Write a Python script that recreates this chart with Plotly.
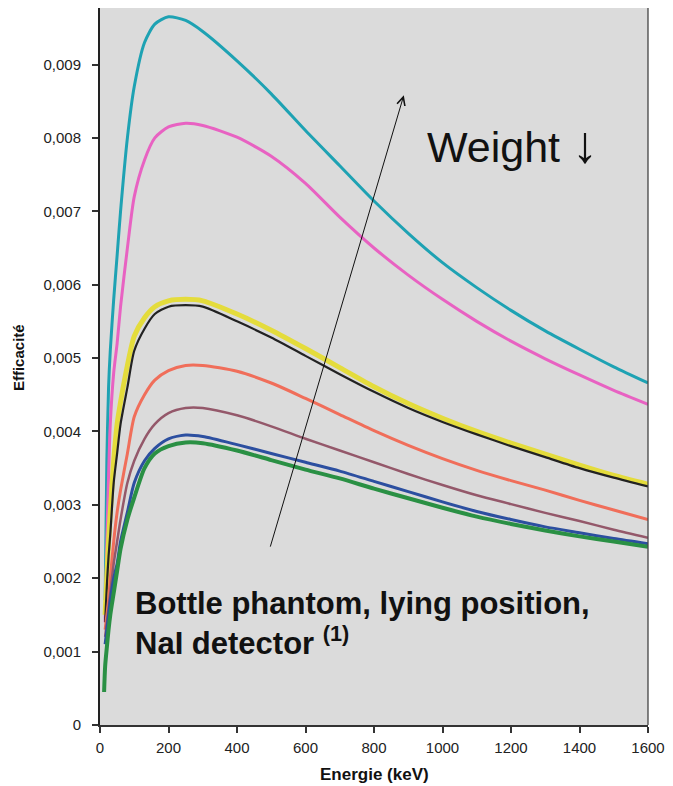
import plotly.graph_objects as go

energy = [12, 15, 20, 25, 30, 40, 50, 60, 80, 100, 130, 160, 200, 250, 300, 400, 500, 600,
          700, 800, 900, 1000, 1100, 1200, 1300, 1400, 1500, 1600]

cyan = [None, 0.0017, 0.0036, 0.0046, 0.0051, 0.0058, 0.0064, 0.0070, 0.0080, 0.0087, 0.0093, 0.00955,
        0.00965, 0.0096, 0.00945, 0.00905, 0.0086, 0.0081, 0.00762, 0.00714, 0.0067, 0.0063, 0.00596,
        0.00565, 0.00537, 0.00512, 0.00488, 0.00466]
magenta = [None, 0.0014, 0.0025, 0.0034, 0.0041, 0.0048, 0.0052, 0.0057, 0.0065, 0.0072, 0.0077, 0.0080,
           0.00815, 0.0082, 0.00817, 0.00801, 0.00775, 0.00738, 0.00692, 0.0065, 0.00613, 0.0058, 0.0055,
           0.00523, 0.00499, 0.00477, 0.00456, 0.00437]
yellow = [None, 0.0015, 0.0020, 0.0025, 0.0029, 0.0036, 0.0041, 0.0044, 0.0049, 0.0053, 0.00555, 0.0057,
          0.00578, 0.0058, 0.00578, 0.0056, 0.00538, 0.00513, 0.00487, 0.00461, 0.00438, 0.00418, 0.0040,
          0.00384, 0.00369, 0.00354, 0.0034, 0.00328]
black = [None, 0.0014, 0.0019, 0.0023, 0.0026, 0.0033, 0.0037, 0.0041, 0.0046, 0.0051, 0.0054, 0.0056,
         0.0057, 0.00572, 0.0057, 0.0055, 0.00528, 0.00503, 0.00478, 0.00454, 0.00432, 0.00413, 0.00396,
         0.0038, 0.00365, 0.0035, 0.00337, 0.00325]
salmon = [None, 0.0013, 0.0015, 0.0017, 0.0020, 0.0025, 0.0029, 0.0032, 0.0037, 0.0042, 0.0045, 0.0047,
          0.00483, 0.0049, 0.0049, 0.00482, 0.00466, 0.00445, 0.00423, 0.00401, 0.00381, 0.00363, 0.00347,
          0.00333, 0.0032, 0.00306, 0.00293, 0.0028]
brown = [None, 0.0012, 0.0014, 0.0016, 0.0018, 0.0022, 0.0025, 0.0028, 0.0033, 0.0036, 0.0039, 0.0041,
         0.00425, 0.00432, 0.00432, 0.00422, 0.00407, 0.0039, 0.00374, 0.00358, 0.00342, 0.00327, 0.00313,
         0.00301, 0.00289, 0.00278, 0.00266, 0.00255]
blue = [None, 0.0011, 0.0013, 0.0015, 0.0017, 0.0020, 0.0022, 0.0025, 0.0029, 0.0033, 0.0036, 0.00377,
        0.0039, 0.00395, 0.00393, 0.00382, 0.0037, 0.00358, 0.00346, 0.00332, 0.00318, 0.00304, 0.00291,
        0.0028, 0.0027, 0.00262, 0.00254, 0.00247]
green = [0.00045, 0.0008, 0.00106, 0.0013, 0.0015, 0.0018, 0.0021, 0.0024, 0.0028, 0.0031, 0.0035, 0.0037,
         0.0038, 0.00385, 0.00384, 0.00374, 0.00361, 0.00348, 0.00336, 0.00322, 0.00309, 0.00296, 0.00284,
         0.00274, 0.00265, 0.00257, 0.0025, 0.00243]

series = [
    ("cyan", cyan, "#1ea2b3", 3),
    ("magenta", magenta, "#e862c2", 3),
    ("yellow", yellow, "#e4dc3c", 5),
    ("black", black, "#222222", 2.2),
    ("salmon", salmon, "#f06e5a", 3),
    ("brown", brown, "#94586a", 2.5),
    ("blue", blue, "#2c4fa0", 3),
    ("green", green, "#2a9044", 4),
]

x_ticks = [0, 200, 400, 600, 800, 1000, 1200, 1400, 1600]
x_tick_labels = ["0", "200", "400", "600", "800", "1000", "1200", "1400", "1600"]
y_ticks = [0, 0.001, 0.002, 0.003, 0.004, 0.005, 0.006, 0.007, 0.008, 0.009]
y_tick_labels = ["0", "0,001", "0,002", "0,003", "0,004", "0,005", "0,006", "0,007", "0,008", "0,009"]

FONT = "Liberation Sans, Arial, sans-serif"

fig = go.Figure()
for name, vals, color, width in series:
    fig.add_trace(go.Scatter(x=energy, y=vals, mode="lines", name=name,
                             line=dict(color=color, width=width, shape="spline", smoothing=0.7),
                             connectgaps=False, showlegend=False, hoverinfo="skip"))

tick_font = dict(family=FONT, size=15, color="#222222")

fig.update_layout(
    width=673, height=786,
    margin=dict(l=100, r=21, t=8, b=61),
    paper_bgcolor="white",
    plot_bgcolor="#dbdbdb",
    showlegend=False,
    xaxis=dict(range=[0, 1600], tickvals=x_ticks, ticktext=x_tick_labels,
               showgrid=False, zeroline=False, showline=True, linecolor="#333333", linewidth=2,
               ticks="outside", ticklen=6, tickwidth=2, tickcolor="#333333",
               tickfont=tick_font, mirror=False, ticklabelstandoff=2),
    yaxis=dict(range=[0, 0.00977], tickvals=y_ticks, ticktext=y_tick_labels,
               showgrid=False, zeroline=False, showline=True, linecolor="#222222", linewidth=2,
               ticks="outside", ticklen=6, tickwidth=2, tickcolor="#333333",
               tickfont=tick_font, mirror=False, ticklabelstandoff=8),
)

# right frame line
fig.add_shape(type="line", xref="paper", yref="paper", x0=1, x1=1, y0=0, y1=1,
              line=dict(color="#444444", width=1.3))

# arrow
fig.add_annotation(x=887, y=0.00858, ax=496, ay=0.00241, xref="x", yref="y",
                   axref="x", ayref="y", text="", showarrow=True,
                   arrowhead=5, arrowsize=1.6, arrowwidth=1, arrowcolor="#111111")

fig.add_annotation(x=1205, y=0.00792, xref="x", yref="y",
                   text="Weight <span style='font-size:52px'>↓</span>",
                   showarrow=False, xanchor="center", yanchor="middle",
                   font=dict(family=FONT, size=43, color="#111111"))

fig.add_annotation(x=95, y=0.00192, xref="x", yref="y",
                   text="<b>Bottle phantom, lying position,<br>NaI detector <sup>(1)</sup></b>",
                   showarrow=False, xanchor="left", yanchor="top", align="left",
                   font=dict(family=FONT, size=31, color="#111111"))

fig.add_annotation(x=0, y=0.0050, xref="paper", yref="y", xshift=-82,
                   text="<b>Efficacité</b>", textangle=-90, showarrow=False,
                   xanchor="center", yanchor="middle",
                   font=dict(family=FONT, size=15, color="#111111"))

fig.add_annotation(x=800, y=0, xref="x", yref="paper", yshift=-38,
                   text="<b>Energie (keV)</b>", showarrow=False,
                   xanchor="center", yanchor="top",
                   font=dict(family=FONT, size=17, color="#111111"))

fig.write_html("out.html")
